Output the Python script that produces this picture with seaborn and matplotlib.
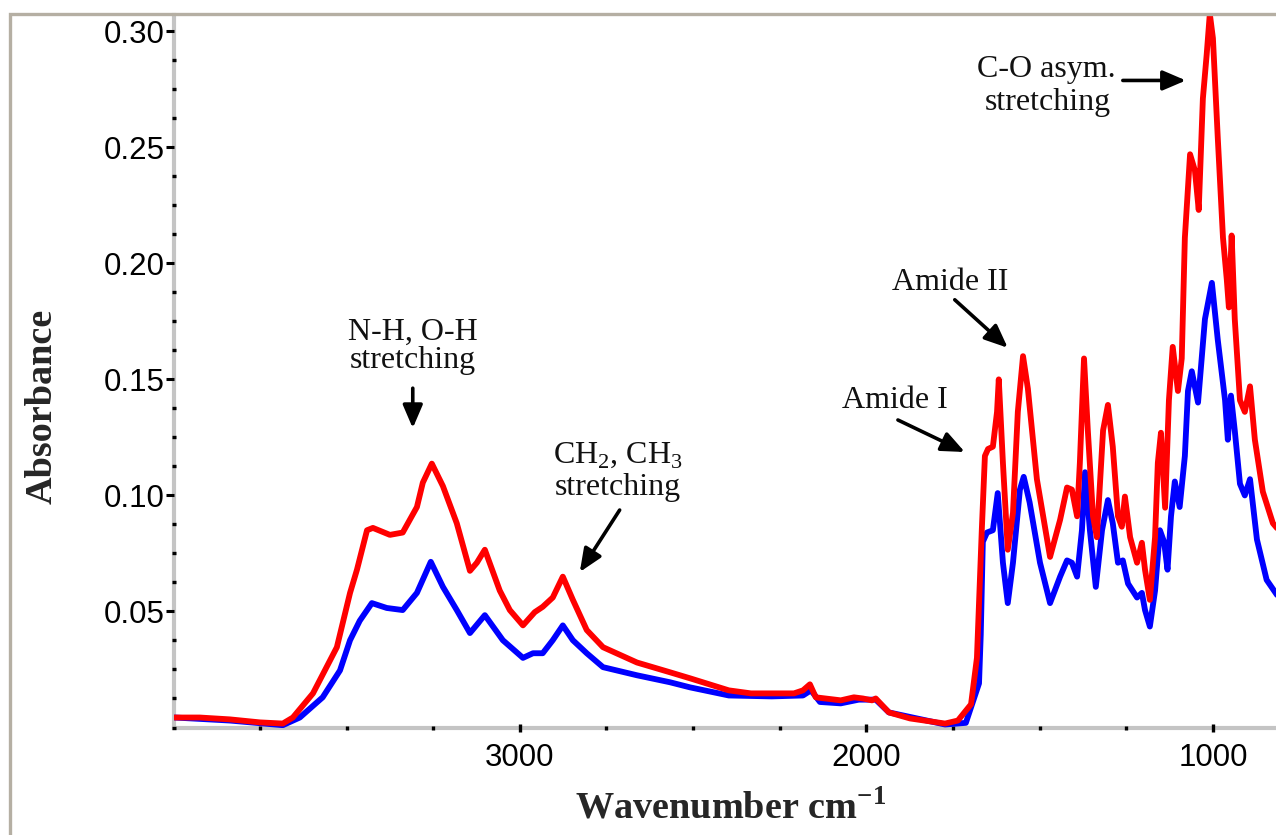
import matplotlib
matplotlib.use("Agg")
import matplotlib.pyplot as plt
import seaborn as sns
import pandas as pd
from matplotlib.patches import Rectangle
from matplotlib.ticker import MultipleLocator

# ---- FTIR spectra: wavenumber (cm-1) and absorbance ----
red_wavenumber = [3996, 3924, 3837, 3750, 3684, 3655, 3597, 3528, 3490, 3470, 3441, 3424, 3375, 3338,
                  3297, 3280, 3254, 3222, 3182, 3144, 3124, 3101, 3058, 3029, 2991, 2957, 2934, 2905,
                  2876, 2847, 2807, 2760, 2662, 2567, 2509, 2397, 2333, 2209, 2183, 2163, 2146, 2074,
                  2036, 2010, 1984, 1973, 1935, 1874, 1773, 1736, 1698, 1681, 1667, 1658, 1649, 1635,
                  1623, 1618, 1606, 1592, 1577, 1563, 1548, 1534, 1508, 1470, 1441, 1421, 1407, 1392,
                  1384, 1372, 1361, 1346, 1335, 1317, 1303, 1289, 1274, 1263, 1254, 1239, 1219, 1205,
                  1196, 1182, 1167, 1159, 1150, 1138, 1127, 1116, 1101, 1090, 1081, 1066, 1052, 1041,
                  1029, 1018, 1009, 1000, 986, 971, 960, 954, 946, 937, 922, 908, 893, 879, 856, 827, 810]
red_absorbance = [0.0043, 0.0043, 0.0035, 0.0022, 0.0017, 0.0043, 0.0147, 0.0346, 0.058, 0.068, 0.085,
                  0.086, 0.083, 0.084, 0.095, 0.1055, 0.1137, 0.104, 0.088, 0.0675, 0.071, 0.0766, 0.059,
                  0.0506, 0.044, 0.0497, 0.052, 0.056, 0.065, 0.055, 0.042, 0.0346, 0.028, 0.0238, 0.0212,
                  0.016, 0.0147, 0.0147, 0.016, 0.0186, 0.013, 0.0117, 0.013, 0.0125, 0.0117, 0.0125,
                  0.0065, 0.0039, 0.0017, 0.003, 0.010, 0.03, 0.085, 0.117, 0.12, 0.121, 0.136, 0.150,
                  0.114, 0.0766, 0.0925, 0.136, 0.160, 0.146, 0.107, 0.0735, 0.0895, 0.1034, 0.1025,
                  0.091, 0.114, 0.159, 0.128, 0.091, 0.082, 0.128, 0.139, 0.121, 0.091, 0.0865, 0.0995,
                  0.082, 0.071, 0.0796, 0.068, 0.055, 0.082, 0.114, 0.127, 0.0947, 0.141, 0.164, 0.145,
                  0.159, 0.211, 0.247, 0.240, 0.223, 0.271, 0.290, 0.3075, 0.297, 0.254, 0.211, 0.193,
                  0.181, 0.212, 0.176, 0.141, 0.136, 0.147, 0.124, 0.1016, 0.088, 0.085]

blue_wavenumber = [3996, 3837, 3684, 3635, 3569, 3519, 3490, 3462, 3427, 3384, 3338, 3297, 3257, 3222,
                   3182, 3144, 3101, 3049, 2991, 2962, 2934, 2905, 2876, 2847, 2807, 2760, 2662, 2567,
                   2509, 2397, 2273, 2183, 2160, 2134, 2074, 2022, 1973, 1935, 1773, 1713, 1675, 1670,
                   1664, 1652, 1635, 1621, 1606, 1592, 1577, 1557, 1546, 1529, 1499, 1470, 1441, 1421,
                   1407, 1392, 1378, 1369, 1355, 1338, 1320, 1303, 1289, 1274, 1260, 1245, 1219, 1205,
                   1196, 1182, 1167, 1153, 1141, 1131, 1121, 1110, 1096, 1081, 1072, 1061, 1043, 1023,
                   1003, 986, 965, 957, 948, 937, 922, 908, 893, 873, 845, 810]
blue_absorbance = [0.0043, 0.003, 0.001, 0.0043, 0.013, 0.0246, 0.0376, 0.046, 0.0536, 0.0515, 0.0506,
                   0.058, 0.0714, 0.0606, 0.0506, 0.0407, 0.0484, 0.0376, 0.030, 0.032, 0.032, 0.0376,
                   0.044, 0.0376, 0.032, 0.026, 0.0225, 0.0195, 0.0173, 0.0138, 0.0134, 0.0138, 0.016,
                   0.011, 0.0104, 0.012, 0.012, 0.0065, 0.0013, 0.002, 0.019, 0.04, 0.08, 0.084, 0.085,
                   0.101, 0.071, 0.0536, 0.071, 0.1025, 0.108, 0.097, 0.071, 0.0536, 0.065, 0.072, 0.071,
                   0.065, 0.085, 0.11, 0.085, 0.0606, 0.085, 0.098, 0.088, 0.071, 0.072, 0.062, 0.056,
                   0.058, 0.0506, 0.0435, 0.059, 0.085, 0.080, 0.068, 0.091, 0.106, 0.095, 0.117, 0.145,
                   0.1535, 0.140, 0.176, 0.1916, 0.167, 0.141, 0.124, 0.143, 0.128, 0.105, 0.100, 0.107,
                   0.081, 0.0636, 0.056]

x_ticks = [3000, 2000, 1000]
x_tick_labels = ["3000", "2000", "1000"]
y_ticks = [0.05, 0.10, 0.15, 0.20, 0.25, 0.30]
y_tick_labels = ["0.05", "0.10", "0.15", "0.20", "0.25", "0.30"]

red_df = pd.DataFrame({"wavenumber": red_wavenumber, "absorbance": red_absorbance})
blue_df = pd.DataFrame({"wavenumber": blue_wavenumber, "absorbance": blue_absorbance})

sns.set_style("white")
plt.rcParams["mathtext.fontset"] = "custom"
plt.rcParams["mathtext.rm"] = "Liberation Serif"
plt.rcParams["mathtext.bf"] = "Liberation Serif:bold"
plt.rcParams["font.family"] = ["Liberation Sans", "DejaVu Sans"]

W, H = 1276, 835
fig = plt.figure(figsize=(W / 100, H / 100), dpi=100)
fig.patch.set_facecolor("white")

# outer frame of the figure panel
fig.patches.append(Rectangle((10 / W, -0.2), 1.5, 1.2 - 14 / H, transform=fig.transFigure,
                             fill=False, edgecolor="#b5afa3", lw=2.4, zorder=0))

left, bottom_px, top_px = 174, 727.5, 15
ax = fig.add_axes([left / W, 1 - bottom_px / H, (W - left) / W, (bottom_px - top_px) / H])
ax.set_facecolor("none")

sns.lineplot(data=blue_df, x="wavenumber", y="absorbance", ax=ax, color="#0000ff", lw=4.2,
             sort=False, estimator=None)
sns.lineplot(data=red_df, x="wavenumber", y="absorbance", ax=ax, color="#ff0000", lw=4.2,
             sort=False, estimator=None)

ax.set_xlim(3998, 818)
ax.set_ylim(0, 0.307)

for side in ("top", "right"):
    ax.spines[side].set_visible(False)
for side in ("left", "bottom"):
    ax.spines[side].set_color("#c4c4c4")
    ax.spines[side].set_linewidth(3)
    ax.spines[side].set_zorder(0.5)

ax.set_xticks(x_ticks, x_tick_labels)
ax.set_yticks(y_ticks, y_tick_labels)
ax.xaxis.set_minor_locator(MultipleLocator(250))
ax.yaxis.set_minor_locator(MultipleLocator(0.0125))
ax.tick_params(which="both", bottom=True, left=True, top=False, right=False)
ax.tick_params(axis="y", which="major", direction="out", length=6, width=2.2, color="black",
               labelsize=22.5, pad=0.5, labelcolor="black")
ax.tick_params(axis="x", which="major", direction="inout", length=6, width=2.4, color="black",
               labelsize=22.5, pad=8, labelcolor="black")
ax.tick_params(which="minor", direction="inout", length=2.4, width=2.4, color="black")

serif = "Liberation Serif"
ax.set_ylabel("Absorbance", fontfamily=serif, fontweight="bold", fontsize=27.5, va="center")
ax.yaxis.set_label_coords((42 - left) / (W - left), (bottom_px - 406) / (bottom_px - top_px))
ax.set_xlabel(r"Wavenumber cm$^{\mathbf{-1}}$", fontfamily=serif, fontweight="bold",
              fontsize=27.5, va="center")
ax.xaxis.set_label_coords((731 - left) / (W - left), (bottom_px - 808) / (bottom_px - top_px))

# band assignments
note_style = dict(fontfamily=serif, fontsize=23, color="#111111", ha="center", va="baseline")
ax.text(3309, 0.167, "N-H, O-H", **note_style)
ax.text(3309, 0.155, "stretching", **note_style)
ax.text(2718, 0.1143, r"CH$_\mathrm{2}$, CH$_\mathrm{3}$", **note_style)
ax.text(2718, 0.100, "stretching", **note_style)
ax.text(1918, 0.1376, "Amide I", **note_style)
ax.text(1759, 0.1886, "Amide II", **note_style)
ax.text(1482, 0.2804, "C-O asym.", **note_style)
ax.text(1476, 0.2662, "stretching", **note_style)

arrow_style = dict(arrowstyle="-|>,head_length=0.7,head_width=0.3", lw=2.6, color="black",
                   shrinkA=0, shrinkB=0, mutation_scale=20)
arrows = [((3309, 0.1462), (3309, 0.129)),
          ((2712, 0.0937), (2827, 0.067)),
          ((1909, 0.1325), (1716, 0.1187)),
          ((1745, 0.1843), (1592, 0.1636)),
          ((1260, 0.2788), (1078, 0.2788))]
for tail, head in arrows:
    ax.annotate("", xy=head, xytext=tail, arrowprops=arrow_style)

fig.savefig("out.png", dpi=100)
